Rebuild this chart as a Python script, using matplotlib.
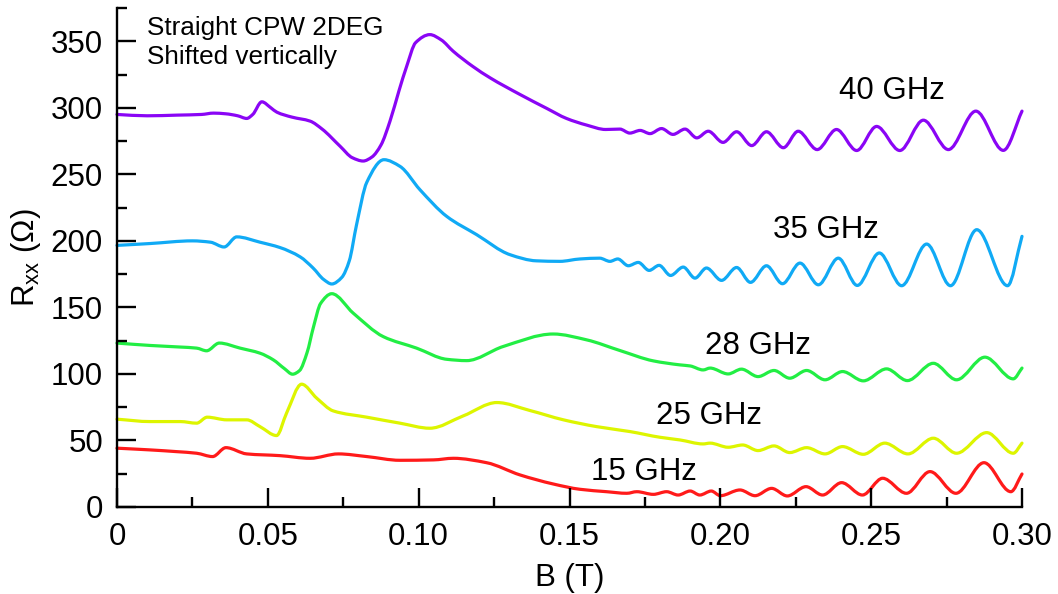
import numpy as np
import matplotlib
matplotlib.use("Agg")
import matplotlib.pyplot as plt
from matplotlib.path import Path
from matplotlib.patches import PathPatch
from matplotlib.ticker import MultipleLocator, FuncFormatter

plt.rcParams['font.family'] = ['Liberation Sans', 'DejaVu Sans']
plt.rcParams['mathtext.default'] = 'regular'

# Rxx(B) traces at each microwave frequency, offset vertically (B in T, R in Ohm)
rxx_40ghz = [
    (0.000, 295), (0.010, 294), (0.020, 294.5), (0.028, 295), (0.032, 296),
    (0.036, 295.5), (0.040, 294), (0.043, 292), (0.045, 295), (0.048, 304.5),
    (0.051, 300), (0.053, 296.7), (0.058, 293), (0.064, 290), (0.068, 284),
    (0.074, 271), (0.078, 262.5), (0.0816, 260), (0.0845, 263), (0.0875, 272),
    (0.0905, 290), (0.0935, 313), (0.096, 331), (0.099, 349), (0.1037, 355),
    (0.1075, 351), (0.1114, 342.6), (0.118, 331), (0.1237, 322.5), (0.1336, 310),
    (0.1425, 299.5), (0.149, 292), (0.1557, 287), (0.162, 283.7), (0.1667, 284),
    (0.170, 281), (0.1734, 283), (0.1767, 280.6), (0.1805, 284.4), (0.1843, 280),
    (0.1883, 284), (0.1922, 277.4), (0.196, 282.4), (0.2009, 274), (0.2054, 282),
    (0.2104, 271.6), (0.2153, 282), (0.2209, 270), (0.2258, 282.4), (0.2321, 268.6),
    (0.2385, 283.7), (0.2452, 267.9), (0.2518, 286), (0.2595, 267.9), (0.2673, 290.7),
    (0.2756, 268.6), (0.2847, 297.5), (0.2938, 268), (0.300, 297.5),
]

rxx_35ghz = [
    (0.000, 196.6), (0.011, 198), (0.025, 200), (0.031, 199), (0.0355, 195.4),
    (0.0397, 203), (0.0474, 199), (0.054, 195), (0.0607, 188), (0.065, 179.6),
    (0.0685, 171), (0.0712, 167.6), (0.0745, 172.5), (0.0770, 185), (0.0794, 212),
    (0.0828, 244), (0.0885, 261), (0.0938, 256), (0.1004, 238.5), (0.1093, 218.4),
    (0.1192, 204.7), (0.1303, 189.6), (0.139, 185), (0.1468, 184.6), (0.1535, 186.4),
    (0.160, 187), (0.1634, 184.6), (0.166, 186.4), (0.1695, 181.3), (0.1728, 183.8),
    (0.1764, 177.8), (0.1797, 181.6), (0.1835, 174), (0.1877, 180.3), (0.1916, 172),
    (0.1954, 179.6), (0.2004, 170.3), (0.2054, 180), (0.210, 168.8), (0.2153, 181.3),
    (0.2206, 167.8), (0.2264, 183.3), (0.2325, 167), (0.2391, 187), (0.2454, 166.5),
    (0.2527, 190.9), (0.2601, 166.3), (0.2684, 197.6), (0.2763, 166.3), (0.285, 208.4),
    (0.2952, 166.3), (0.300, 203.4),
]

rxx_28ghz = [
    (0.000, 123.2), (0.011, 121.4), (0.021, 120.2), (0.0264, 119.4), (0.0297, 117.4),
    (0.0339, 123.2), (0.0408, 119.4), (0.0474, 115.6), (0.0518, 110.6), (0.0555, 104),
    (0.0582, 99.8), (0.0605, 102.5), (0.0630, 116), (0.0651, 135), (0.0675, 153),
    (0.0712, 160.3), (0.0783, 145.7), (0.0883, 128), (0.0993, 119.4), (0.1093, 111),
    (0.1159, 110), (0.128, 120.6), (0.1446, 130), (0.1557, 125.6), (0.1667, 117.6),
    (0.1778, 109.8), (0.1866, 106.8), (0.190, 106), (0.1943, 103), (0.1966, 104.4),
    (0.2026, 100), (0.207, 103.6), (0.2125, 98), (0.2178, 102.6), (0.223, 96.8),
    (0.2286, 102.6), (0.2347, 95.6), (0.2405, 101.8), (0.2474, 94.8), (0.2551, 103.8),
    (0.262, 95), (0.2706, 108), (0.2783, 95.6), (0.2877, 112.6), (0.2971, 96.3),
    (0.300, 104.4),
]

rxx_25ghz = [
    (0.000, 66), (0.011, 64.2), (0.021, 64.2), (0.0264, 63), (0.0299, 67.5),
    (0.0364, 65.5), (0.043, 65.5), (0.0474, 60.4), (0.0529, 53.7), (0.0562, 70.5),
    (0.0612, 92.3), (0.0662, 81.8), (0.0717, 72.2), (0.0828, 67.5), (0.0938, 63),
    (0.1037, 59.2), (0.1148, 68.5), (0.1259, 78.5), (0.1369, 72.5), (0.148, 65.5),
    (0.159, 60.4), (0.170, 56.7), (0.180, 52.4), (0.1866, 50.4), (0.1943, 47.4),
    (0.1966, 48), (0.2026, 44.9), (0.2074, 46.6), (0.2125, 42.4), (0.2178, 45.9),
    (0.223, 40.9), (0.2286, 44.6), (0.2347, 39.9), (0.2405, 45.4), (0.2474, 39.6),
    (0.2545, 48), (0.2622, 39.9), (0.2706, 51.7), (0.2783, 40.4), (0.2883, 55.9),
    (0.2971, 40.4), (0.300, 48),
]

rxx_15ghz = [
    (0.000, 44.2), (0.011, 42.9), (0.0198, 41.6), (0.0264, 40.4), (0.0317, 37.9),
    (0.0361, 44.6), (0.043, 39.9), (0.054, 38.6), (0.064, 36.6), (0.0734, 39.9),
    (0.0828, 37.9), (0.0938, 35.1), (0.1049, 35.4), (0.1115, 36.6), (0.1225, 33.3),
    (0.1336, 24.1), (0.1446, 17.3), (0.1535, 13.3), (0.1623, 11.5), (0.169, 10.3),
    (0.1723, 11.5), (0.1778, 9.5), (0.1822, 11.5), (0.186, 9), (0.190, 12),
    (0.1932, 9), (0.197, 12), (0.200, 8.5), (0.2065, 12.8), (0.2115, 8.5),
    (0.217, 14), (0.2222, 8.3), (0.2284, 15.3), (0.2339, 9), (0.2402, 18.3),
    (0.2471, 9), (0.2538, 21.6), (0.2617, 10.3), (0.2695, 26.6), (0.2781, 10.3),
    (0.2874, 33.3), (0.2963, 11.5), (0.300, 24.8),
]

traces = [rxx_15ghz, rxx_25ghz, rxx_28ghz, rxx_35ghz, rxx_40ghz]
freq_labels = ["15 GHz", "25 GHz", "28 GHz", "35 GHz", "40 GHz"]
colors = ["#ff1a1a", "#ddf500", "#22ee44", "#10aaf5", "#8a05f5"]
# where each frequency tag sits (B, R), left/baseline aligned
label_pos = [(0.157, 20.3), (0.1787, 62.2), (0.1949, 114.9), (0.2176, 202), (0.2394, 306.8)]


def smooth_path(x, y):
    """Bezier path through every (x, y) with monotone (PCHIP-style) tangents."""
    h = np.diff(x)
    d = np.diff(y) / h
    m = np.zeros_like(y)
    m[0], m[-1] = d[0], d[-1]
    for k in range(1, len(x) - 1):
        if d[k - 1] * d[k] > 0:
            w1 = 2 * h[k] + h[k - 1]
            w2 = h[k] + 2 * h[k - 1]
            m[k] = (w1 + w2) / (w1 / d[k - 1] + w2 / d[k])
    verts = [(x[0], y[0])]
    codes = [Path.MOVETO]
    for k in range(len(x) - 1):
        verts += [(x[k] + h[k] / 3, y[k] + m[k] * h[k] / 3),
                  (x[k + 1] - h[k] / 3, y[k + 1] - m[k + 1] * h[k] / 3),
                  (x[k + 1], y[k + 1])]
        codes += [Path.CURVE4] * 3
    return Path(verts, codes)


fig = plt.figure(figsize=(10.58, 5.94), dpi=100)
ax = fig.add_axes([117 / 1058, 1 - 507 / 594, 905 / 1058, 499 / 594])

for data, col in zip(traces, colors):
    arr = np.array(data, dtype=float)
    patch = PathPatch(smooth_path(arr[:, 0], arr[:, 1]), fill=False, edgecolor=col,
                      lw=2.3, joinstyle='round', capstyle='round', clip_on=False)
    ax.add_patch(patch)

for txt, (bx, ry) in zip(freq_labels, label_pos):
    ax.text(bx, ry, txt, fontsize=22.5, ha='left', va='baseline')

ax.text(0.0098, 354.4, "Straight CPW 2DEG", fontsize=18.8, ha='left', va='baseline')
ax.text(0.0098, 332.6, "Shifted vertically", fontsize=18.8, ha='left', va='baseline')

ax.set_xlim(0, 0.30)
ax.set_ylim(0, 375)

ax.xaxis.set_major_locator(MultipleLocator(0.05))
ax.xaxis.set_minor_locator(MultipleLocator(0.025))
ax.yaxis.set_major_locator(MultipleLocator(50))
ax.yaxis.set_minor_locator(MultipleLocator(25))
ax.xaxis.set_major_formatter(FuncFormatter(lambda v, p: "0" if abs(v) < 1e-9 else f"{v:.2f}"))

for side in ['top', 'right']:
    ax.spines[side].set_visible(False)
for side in ['left', 'bottom']:
    ax.spines[side].set_linewidth(1.7)

ax.tick_params(which='major', direction='in', length=14, width=1.7, labelsize=22.5, pad=10)
ax.tick_params(which='minor', direction='in', length=7, width=1.7)
ax.tick_params(axis='x', which='major', pad=11)

ax.set_xlabel("B (T)", fontsize=22.5)
ax.set_ylabel("R$_{xx}$ ($\\Omega$)", fontsize=22.5)
ax.xaxis.set_label_coords(0.5, -0.112)
ax.yaxis.set_label_coords(-0.082, 0.5)

fig.savefig("out.png", dpi=100)
